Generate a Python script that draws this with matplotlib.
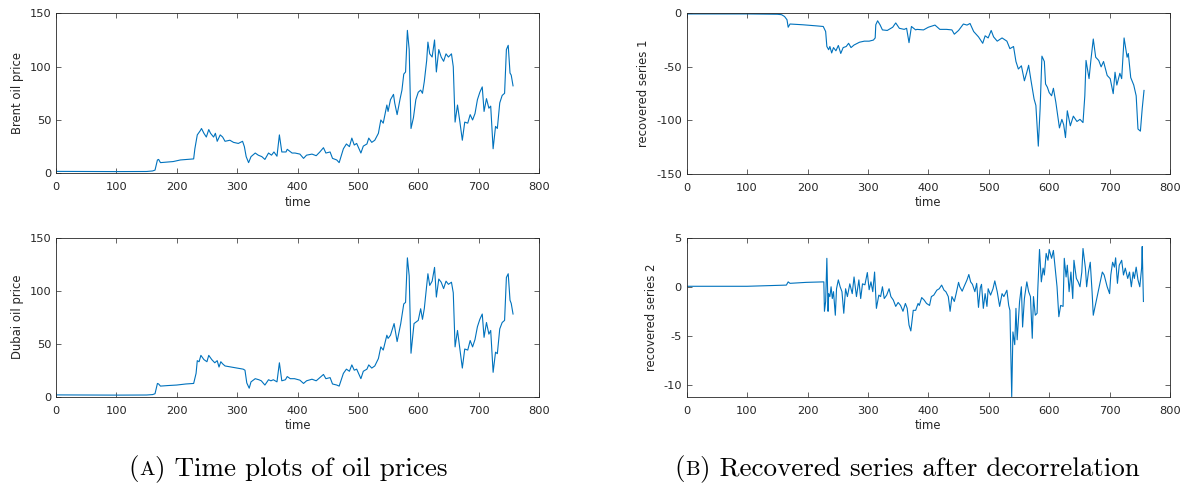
import matplotlib
matplotlib.use("Agg")
import matplotlib.pyplot as plt
import numpy as np

# ---------------- data ----------------
brent = [(1,1.8),(50,1.7),(100,1.6),(150,1.7),(160,2.2),(164,3),(168,12.5),(170,13),(173,10),(183,10.5),
         (194,11),(206,12.5),(217,13),(228,13.5),(230,23),(234,36),(239,40),(241,42),(245,37.5),(249,34),
         (253,41),(256,37.5),(261,34),(264,37.5),(267,30),(272,36),(276,34),(280,30),(288,31),(294,29),
         (302,28),(309,30),(312,25),(315,15.6),(319,10),(323,15.6),(330,19),(335,17),(341,15.6),(346,13),
         (352,19),(357,17),(361,20),(366,16),(370,36),(374,20),(381,20),(383,22.5),(391,19),(396,19),
         (404,18),(410,14),(415,17),(424,18),(431,16.5),(437,20),(443,24),(447,19),(454,20),(458,14),
         (465,12.5),(469,10),(476,23),(481,27.5),(486,25),(490,33),(494,26.5),(498,28),(505,19),(509,25.5),
         (515,27.5),(518,33),(523,29),(528,31),(534,37.5),(538,50),(542,47),(548,64),(550,58),(554,69),
         (559,74),(561,66),(565,55),(570,70),(573,78),(576,93),(579,95),(582,134),(585,116),(588,42),
         (592,52),(596,69),(600,76),(604,78),(607,75),(610,86),(614,106),(616,123),(619,112),(623,109),
         (627,125),(630,95),(634,116),(638,109),(642,105),(646,112),(650,109),(655,112),(658,100),(661,48),
         (665,64),(669,48),(673,31),(677,48),(682,47),(686,55),(690,50),(694,56),(698,69),(702,76),
         (706,81),(709,58),(713,70),(717,61),(720,63),(724,23),(728,44),(731,42),(735,66),(739,73),
         (743,75),(746,116),(749,120),(752,94),(754,92),(757,82)]

dubai = [(1,1.7),(50,1.6),(100,1.5),(150,1.6),(160,2),(164,2.8),(168,12.5),(170,12),(173,10),(185,10.5),
         (200,11),(215,12),(228,12.5),(232,22),(234,34),(237,33),(240,39),(245,35),(250,33),(253,39),
         (258,35),(263,32),(267,34),(270,28),(273,33),(276,31),(280,29),(290,28),(300,27),(310,26),
         (313,25),(316,13),(320,8),(323,14),(330,17),(336,16),(340,15),(346,11),(352,16),(356,15),
         (360,16),(366,14),(370,32),(374,15),(380,16),(383,19),(388,17),(395,17),(404,15.6),(410,12.5),
         (415,15),(424,16.5),(431,15),(437,18),(443,21),(447,17),(454,18),(458,12),(465,11),(469,10),
         (476,22),(481,26),(486,24),(490,30),(494,25),(498,26),(505,17),(509,24),(515,26),(518,30),
         (523,27),(528,29),(534,36),(538,47),(542,44),(548,58),(550,55),(554,58),(560,69),(565,52),
         (571,69),(576,87.5),(579,89),(582,131),(585,114),(588,41),(593,69),(600,72),(604,83),(607,73),
         (610,83),(616,116),(619,105),(623,109),(627,122),(630,94),(634,111),(638,108),(642,102),(646,109),
         (650,106),(655,108),(658,98),(661,47),(665,62.5),(669,45),(673,27),(677,45),(682,44),(686,53),
         (690,47),(694,54),(698,66),(702,73),(706,78),(709,56),(713,70),(717,59),(720,62.5),(724,23),
         (728,42),(731,40.6),(735,64),(739,70),(743,72),(746,112.5),(749,116),(752,91),(754,88),(757,78)]

rec1 = [(1,-0.6),(50,-0.6),(100,-0.6),(150,-0.9),(157,-1.3),(162,-3),(166,-6),(168,-13),(171,-10),(192,-10.7),
        (214,-11.7),(226,-12.3),(230,-17),(232,-31),(235,-34),(237,-31),(240,-37),(243,-32),(247,-35),(251,-30),
        (255,-37.5),(259,-32),(264,-31),(268,-28),(272,-32),(277,-29.6),(286,-27),(294,-26),(302,-26),(309,-25),
        (312,-23),(313,-10.7),(316,-7),(320,-10.7),(324,-15.5),(332,-16),(341,-13),(346,-9),(352,-14),(360,-15),
        (364,-14),(368,-27.4),(372,-12.3),(379,-15.5),(381,-15),(392,-15.5),(400,-13),(411,-11),(419,-15),(430,-15),
        (439,-15.5),(443,-19.5),(450,-16),(458,-10),(464,-11),(469,-9.5),(475,-17),(483,-22),(490,-28),(494,-21),
        (499,-23),(504,-16),(508,-22),(514,-26),(522,-23),(530,-26),(535,-33),(541,-31),(545,-45),(549,-52),
        (554,-49),(559,-63),(563,-55),(566,-48.5),(570,-63),(575,-80),(578,-86),(582,-124),(585,-89),(588,-40),
        (592,-45),(594,-66),(597,-69),(600,-74),(604,-77),(607,-70),(611,-83),(617,-107),(621,-99),(624,-104),
        (627,-116),(630,-91),(635,-105),(640,-96),(646,-101),(651,-99),(656,-102),(659,-77),(661,-44),(666,-61),
        (669,-44),(673,-24),(677,-41),(682,-44),(686,-50),(690,-45),(696,-58),(701,-61),(706,-75),(709,-55),
        (712,-67),(717,-56),(720,-61),(724,-23),(729,-41),(731,-37.5),(735,-60),(740,-67),(744,-77),(747,-108),
        (751,-110),(754,-89),(757,-72)]

rec2 = [(1,0.05),(100,0.05),(165,0.17),(168,0.5),(171,0.35),(198,0.45),(227,0.5),(228,-2.5),(230,-1.5),(232,2.9),
        (234,-2.5),(235,-0.7),(237,-1),(239,0),(241,-1.2),(243,-0.5),(246,-2.9),(248,-0.2),(251,0.7),(254,0),
        (257,-0.5),(260,-2.7),(263,-0.2),(266,-1),(270,0.3),(274,-0.7),(277,1.0),(281,-1),(285,0.7),(288,-1.2),
        (291,0.3),(295,0.2),(299,1.45),(302,-0.3),(305,0.5),(308,-0.5),(311,1.5),(314,-2.2),(318,-0.85),(321,-1),
        (324,0),(327,-1.2),(331,-0.85),(335,-0.2),(338,-1),(342,-1.35),(346,-2),(350,-1.6),(354,-1.9),(358,-2.5),
        (362,-1.7),(365,-2.2),(368,-3.9),(371,-4.5),(375,-2.4),(379,-2.4),(383,-1.7),(385,-1.9),(389,-1.1),(393,-1.35),
        (397,-1.7),(402,-1.9),(405,-1),(409,-0.85),(414,-0.35),(418,-0.2),(422,0.17),(426,-0.35),(429,-0.5),(433,-1),
        (436,-2.5),(439,-1),(443,-1.5),(446,-0.7),(450,0.45),(452,0),(456,-0.45),(459,0),(464,0.7),(467,1.25),
        (470,0.5),(473,0.25),(477,-0.5),(480,0.35),(483,-2.1),(486,-0.1),(488,0.25),(491,-2.2),(494,-0.7),(497,-2),
        (499,-0.2),(503,-0.85),(507,-0.2),(510,0.6),(514,-0.5),(518,-2),(522,-0.7),(525,-1),(530,-0.35),(533,-1.9),
        (535,-2.4),(538,-11.2),(540,-4.6),(543,-5.9),(545,-2.2),(547,-5.4),(551,-1.5),(554,0),(556,-4.1),(559,-1.2),
        (563,0.5),(566,-0.5),(569,-1),(572,-5.25),(574,-1),(577,-2.9),(580,-2.7),(581,-0.5),(584,3.8),(587,0.5),
        (590,1.9),(592,1.2),(595,3.4),(598,2.7),(600,3.8),(604,2.9),(607,3.7),(611,1.2),(613,0),(616,-3.05),
        (619,-1.9),(623,-2),(625,2.9),(628,1.0),(630,2.2),(633,-0.5),(636,1.5),(639,-1.2),(641,2.7),(645,0.85),
        (648,0.5),(651,0),(654,1.5),(656,3.9),(660,1.9),(662,0),(665,1.5),(668,2.5),(671,-0.5),(673,-2.9),
        (676,-2),(680,-0.85),(684,0.35),(688,1.5),(691,1.2),(696,0),(700,-0.7),(702,1.2),(705,2.5),(708,2.0),
        (710,2.95),(713,0.35),(716,2.2),(720,2.7),(723,1.2),(726,1.9),(730,0.85),(733,1.5),(736,0),(739,1.5),
        (741,0.85),(744,2.0),(747,0.7),(750,0),(753,1.9),(754,4.1),(756,-1.5)]

xticks = [0, 100, 200, 300, 400, 500, 600, 700, 800]
panels = [
    (brent, "Brent oil price", (0, 150), [0, 50, 100, 150]),
    (dubai, "Dubai oil price", (0, 150), [0, 50, 100, 150]),
    (rec1, "recovered series 1", (-150, 0), [-150, -100, -50, 0]),
    (rec2, "recovered series 2", (-11.2, 5), [-10, -5, 0, 5]),
]
caption_a = ("(", "A", ") Time plots of oil prices")
caption_b = ("(", "B", ") Recovered series after decorrelation")

# ---------------- figure ----------------
W, H = 1185, 496
fig = plt.figure(figsize=(W / 100, H / 100), dpi=100)
plt.rcParams['font.family'] = ['DejaVu Sans']
plt.rcParams['axes.unicode_minus'] = False

line_col = '#0072BD'
ax_col = '#262626'

# axes boxes in pixels: (left, top, right, bottom)
boxes = [(56, 13.3, 539, 173.3), (56, 237.7, 539, 396.7),
         (686.7, 13.3, 1170, 174), (686.7, 237.7, 1170, 396.7)]

for (data, ylab, ylim, yt), (l, t, r, b) in zip(panels, boxes):
    ax = fig.add_axes([l / W, 1 - b / H, (r - l) / W, (b - t) / H])
    tt = [p[0] for p in data]
    vv = [p[1] for p in data]
    ax.plot(tt, vv, color=line_col, lw=0.8)
    ax.set_xlim(0, 800)
    ax.set_ylim(*ylim)
    ax.set_xticks(xticks)
    ax.set_yticks(yt)
    ax.tick_params(direction='in', length=3.6, width=0.5, colors=ax_col,
                   labelsize=8.2, top=True, right=True)
    ax.tick_params(axis='x', pad=6.5)
    ax.tick_params(axis='y', pad=3.5)
    for s in ax.spines.values():
        s.set_linewidth(0.6)
        s.set_color(ax_col)
    ax.set_xlabel("time", fontsize=8.4, color=ax_col, labelpad=2.5)
    ax.set_ylabel(ylab, fontsize=8.4, color=ax_col, labelpad=4)

# ---------------- captions with small caps ----------------
renderer = fig.canvas.get_renderer()
cap_size = 19.5

def caption(parts, cx, base_y):
    sizes = [cap_size, cap_size * 0.76, cap_size]
    texts = []
    for p, s in zip(parts, sizes):
        texts.append(fig.text(0, base_y, p, fontsize=s, family='cmr10',
                              va='baseline', ha='left', color='black'))
    widths = [tx.get_window_extent(renderer).width for tx in texts]
    total = sum(widths)
    x = cx - total / 2
    for tx, w in zip(texts, widths):
        tx.set_x(x / W)
        x += w

base = 1 - 475 / H
caption(caption_a, 288, base)
caption(caption_b, 907, base)

fig.savefig("out.png", dpi=100)
